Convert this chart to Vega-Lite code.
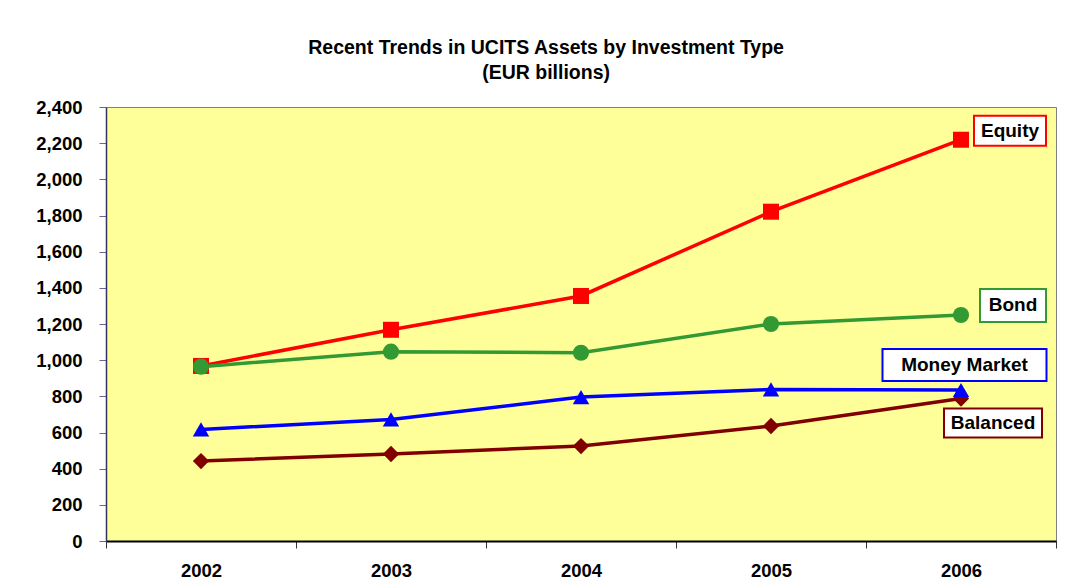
{
  "$schema": "https://vega.github.io/schema/vega-lite/v6.json",
  "width": 950,
  "height": 434,
  "autosize": "none",
  "padding": {"left": 106, "top": 107, "right": 10, "bottom": 44},
  "background": "white",
  "title": {
    "text": ["Recent Trends in UCITS Assets by Investment Type", "(EUR billions)"],
    "font": "Liberation Sans",
    "fontSize": 19.5,
    "fontWeight": "bold",
    "color": "black",
    "lineHeight": 25,
    "anchor": "middle",
    "frame": "bounds",
    "offset": 15
  },
  "config": {
    "view": {"fill": "#FFFF99", "stroke": "#808080", "strokeWidth": 1},
    "axis": {
      "labelFont": "Liberation Sans",
      "labelFontSize": 18.5,
      "labelFontWeight": "bold",
      "labelColor": "black",
      "grid": false,
      "title": null
    }
  },
  "data": {
    "values": [
      {"series": "Equity", "year": "2002", "value": 968},
      {"series": "Equity", "year": "2003", "value": 1168},
      {"series": "Equity", "year": "2004", "value": 1355},
      {"series": "Equity", "year": "2005", "value": 1821},
      {"series": "Equity", "year": "2006", "value": 2219},
      {"series": "Bond", "year": "2002", "value": 964},
      {"series": "Bond", "year": "2003", "value": 1047},
      {"series": "Bond", "year": "2004", "value": 1041},
      {"series": "Bond", "year": "2005", "value": 1200},
      {"series": "Bond", "year": "2006", "value": 1250},
      {"series": "Balanced", "year": "2002", "value": 442},
      {"series": "Balanced", "year": "2003", "value": 481},
      {"series": "Balanced", "year": "2004", "value": 525},
      {"series": "Balanced", "year": "2005", "value": 636},
      {"series": "Balanced", "year": "2006", "value": 788},
      {"series": "Money Market", "year": "2002", "value": 617},
      {"series": "Money Market", "year": "2003", "value": 672},
      {"series": "Money Market", "year": "2004", "value": 796},
      {"series": "Money Market", "year": "2005", "value": 838},
      {"series": "Money Market", "year": "2006", "value": 835}
    ]
  },
  "encoding": {
    "x": {
      "field": "year",
      "type": "ordinal",
      "scale": {"type": "band", "paddingInner": 0, "paddingOuter": 0},
      "axis": {
        "labelAngle": 0,
        "tickBand": "extent",
        "tickSize": 7,
        "tickColor": "#333333",
        "domainColor": "black",
        "domainWidth": 2,
        "labelPadding": 13
      }
    },
    "y": {
      "field": "value",
      "type": "quantitative",
      "scale": {"domain": [0, 2400], "nice": false, "zero": true},
      "axis": {
        "values": [0, 200, 400, 600, 800, 1000, 1200, 1400, 1600, 1800, 2000, 2200, 2400],
        "format": ",.0f",
        "tickSize": 7,
        "tickColor": "#666699",
        "domainColor": "#333366",
        "domainWidth": 1.5,
        "labelPadding": 17
      }
    }
  },
  "layer": [
    {
      "mark": {"type": "line", "strokeWidth": 3.5},
      "encoding": {
        "color": {
          "field": "series",
          "type": "nominal",
          "scale": {
            "domain": ["Equity", "Bond", "Balanced", "Money Market"],
            "range": ["#FF0000", "#339933", "#800000", "#0000FF"]
          },
          "legend": null
        }
      }
    },
    {
      "mark": {"type": "point", "filled": true, "opacity": 1},
      "encoding": {
        "color": {
          "field": "series",
          "type": "nominal",
          "scale": {
            "domain": ["Equity", "Bond", "Balanced", "Money Market"],
            "range": ["#FF0000", "#339933", "#800000", "#0000FF"]
          },
          "legend": null
        },
        "shape": {
          "field": "series",
          "type": "nominal",
          "scale": {
            "domain": ["Equity", "Bond", "Balanced", "Money Market"],
            "range": ["square", "circle", "diamond", "triangle-up"]
          },
          "legend": null
        },
        "size": {
          "field": "series",
          "type": "nominal",
          "scale": {
            "domain": ["Equity", "Bond", "Balanced", "Money Market"],
            "range": [256, 270, 240, 300]
          },
          "legend": null
        }
      }
    },
    {
      "transform": [{"filter": "datum.year === '2006' && datum.series === 'Equity'"}],
      "layer": [
        {
          "mark": {"type": "rect", "width": 72, "xOffset": 49, "yOffset": -24, "y2Offset": 6, "fill": "white", "stroke": "#FF0000", "strokeWidth": 2},
          "encoding": {"y2": {"field": "value"}}
        },
        {
          "mark": {"type": "text", "dx": 49, "dy": -9, "align": "center", "baseline": "middle", "font": "Liberation Sans", "fontSize": 19, "fontWeight": "bold", "color": "black"},
          "encoding": {"text": {"field": "series"}}
        }
      ]
    },
    {
      "transform": [{"filter": "datum.year === '2006' && datum.series === 'Bond'"}],
      "layer": [
        {
          "mark": {"type": "rect", "width": 66, "xOffset": 52, "yOffset": -26, "y2Offset": 7, "fill": "white", "stroke": "#339933", "strokeWidth": 2},
          "encoding": {"y2": {"field": "value"}}
        },
        {
          "mark": {"type": "text", "dx": 52, "dy": -9.5, "align": "center", "baseline": "middle", "font": "Liberation Sans", "fontSize": 19, "fontWeight": "bold", "color": "black"},
          "encoding": {"text": {"field": "series"}}
        }
      ]
    },
    {
      "transform": [{"filter": "datum.year === '2006' && datum.series === 'Money Market'"}],
      "layer": [
        {
          "mark": {"type": "rect", "width": 164, "xOffset": 3.5, "yOffset": -41, "y2Offset": -9, "fill": "white", "stroke": "#0000FF", "strokeWidth": 2},
          "encoding": {"y2": {"field": "value"}}
        },
        {
          "mark": {"type": "text", "dx": 3.5, "dy": -25, "align": "center", "baseline": "middle", "font": "Liberation Sans", "fontSize": 19, "fontWeight": "bold", "color": "black"},
          "encoding": {"text": {"field": "series"}}
        }
      ]
    },
    {
      "transform": [{"filter": "datum.year === '2006' && datum.series === 'Balanced'"}],
      "layer": [
        {
          "mark": {"type": "rect", "width": 98, "xOffset": 32, "yOffset": 10, "y2Offset": 39, "fill": "white", "stroke": "#800000", "strokeWidth": 2},
          "encoding": {"y2": {"field": "value"}}
        },
        {
          "mark": {"type": "text", "dx": 32, "dy": 24.5, "align": "center", "baseline": "middle", "font": "Liberation Sans", "fontSize": 19, "fontWeight": "bold", "color": "black"},
          "encoding": {"text": {"field": "series"}}
        }
      ]
    }
  ]
}
